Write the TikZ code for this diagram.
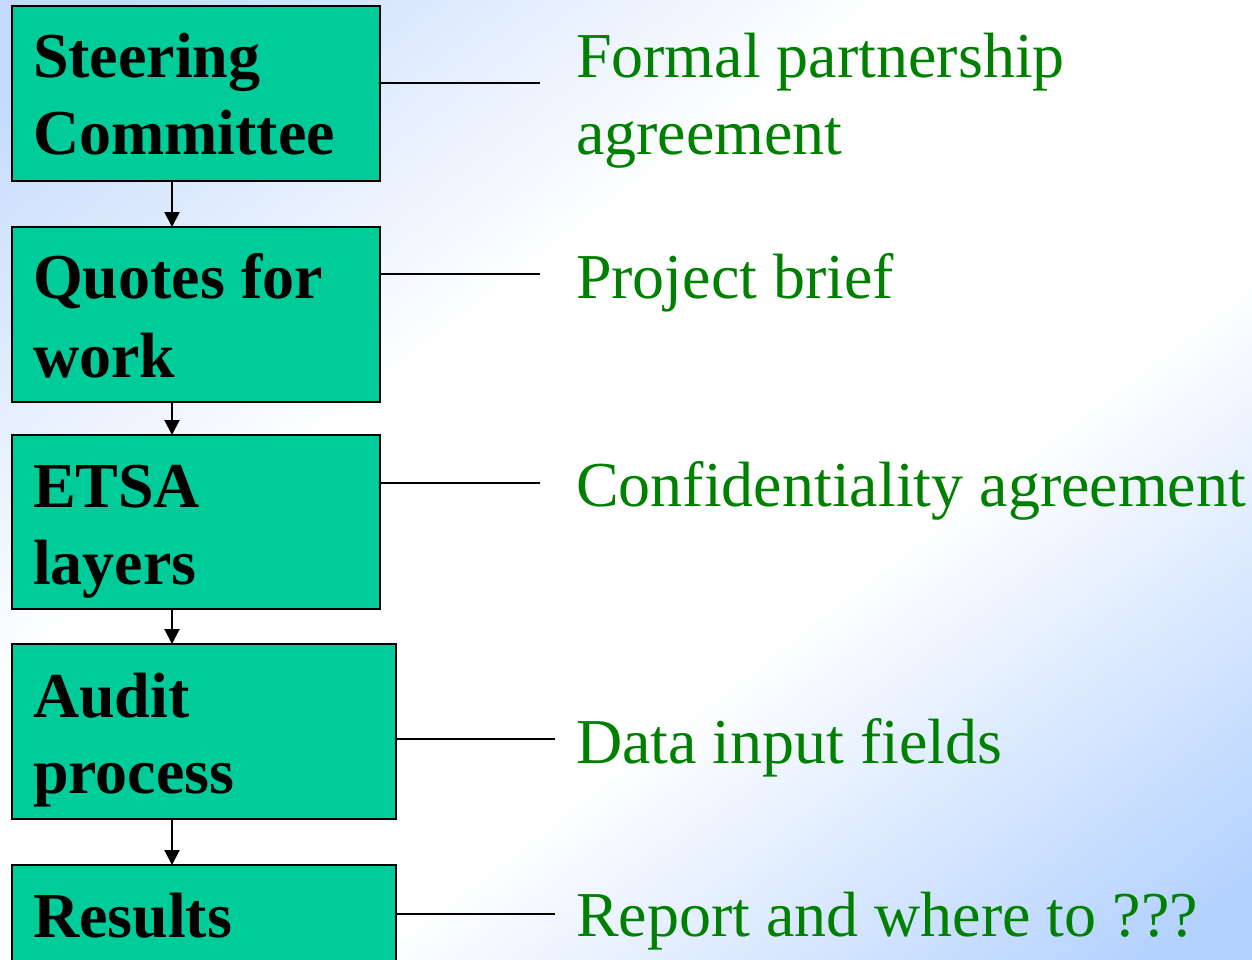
\documentclass[tikz,border=0pt]{standalone}
\usepackage{fontspec}
\setmainfont{Liberation Serif}
\usetikzlibrary{arrows.meta}
\definecolor{boxfill}{HTML}{00CC99}
\definecolor{txtgreen}{HTML}{008000}
\definecolor{bgblueA}{HTML}{C4DAFC}
\definecolor{bgblueB}{HTML}{B4D2FF}
\pgfdeclareverticalshading{bgshade}{100bp}{color(0bp)=(bgblueB); color(18bp)=(bgblueB); color(40bp)=(white); color(60bp)=(white); color(82bp)=(bgblueA); color(100bp)=(bgblueA)}
\begin{document}
\begin{tikzpicture}[x=1pt,y=-1pt,
 stepbox/.style={draw=black,line width=2pt,fill=boxfill,inner sep=0pt,outer sep=0pt,rectangle,anchor=north west},
 boxtext/.style={anchor=base west,inner sep=0pt,outer sep=0pt,font=\fontsize{64}{77}\selectfont\bfseries},
 note/.style={anchor=base west,inner sep=0pt,outer sep=0pt,text=txtgreen,font=\fontsize{64}{77}\selectfont},
 link/.style={line width=2pt},
 flow/.style={line width=2pt,-{Triangle[length=15pt,width=15pt]}}]
\useasboundingbox (0,0) rectangle (1252,960);
\clip (0,0) rectangle (1252,960);
\shade[shading=bgshade,shading angle=37.5] (0,0) rectangle (1252,960);
% boxes
\node[stepbox,minimum width=368pt,minimum height=175pt] (b1) at (12,6) {};
\node[stepbox,minimum width=368pt,minimum height=175pt] (b2) at (12,227) {};
\node[stepbox,minimum width=368pt,minimum height=174pt] (b3) at (12,435) {};
\node[stepbox,minimum width=384pt,minimum height=175pt] (b4) at (12,644) {};
\node[stepbox,minimum width=384pt,minimum height=150pt] (b5) at (12,865) {};
% box texts
\node[boxtext] (t1a) at (33,78) {Steering};
\node[boxtext] (t1b) at (33,155) {Committee};
\node[boxtext] (t2a) at (33,298) {Quotes for};
\node[boxtext] (t2b) at (33,377) {work};
\node[boxtext] (t3a) at (33,507) {ETSA};
\node[boxtext] (t3b) at (33,584) {layers};
\node[boxtext] (t4a) at (33,717) {Audit};
\node[boxtext] (t4b) at (33,793) {process};
\node[boxtext] (t5) at (33,937) {Results};
% notes
\node[note] (n1a) at (576,78) {Formal partnership};
\node[note] (n1b) at (576,155) {agreement};
\node[note] (n2) at (576,298) {Project brief};
\node[note] (n3) at (576,506) {Confidentiality agreement};
\node[note] (n4) at (576,763) {Data input fields};
\node[note] (n5) at (576,936) {Report and where to ???};
% link ends
\coordinate (c1) at (540,83);
\coordinate (c2) at (540,274);
\coordinate (c3) at (540,483);
\coordinate (c4) at (555,739);
\coordinate (c5) at (555,914);
\draw[link] (b1.east |- c1) -- (c1);
\draw[link] (b2.east |- c2) -- (c2);
\draw[link] (b3.east |- c3) -- (c3);
\draw[link] (b4.east |- c4) -- (c4);
\draw[link] (b5.east |- c5) -- (c5);
% flow arrows
\coordinate (ax) at (172,0);
\draw[flow] (b1.south -| ax) -- (b2.north -| ax);
\draw[flow] (b2.south -| ax) -- (b3.north -| ax);
\draw[flow] (b3.south -| ax) -- (b4.north -| ax);
\draw[flow] (b4.south -| ax) -- (b5.north -| ax);
\end{tikzpicture}
\end{document}
